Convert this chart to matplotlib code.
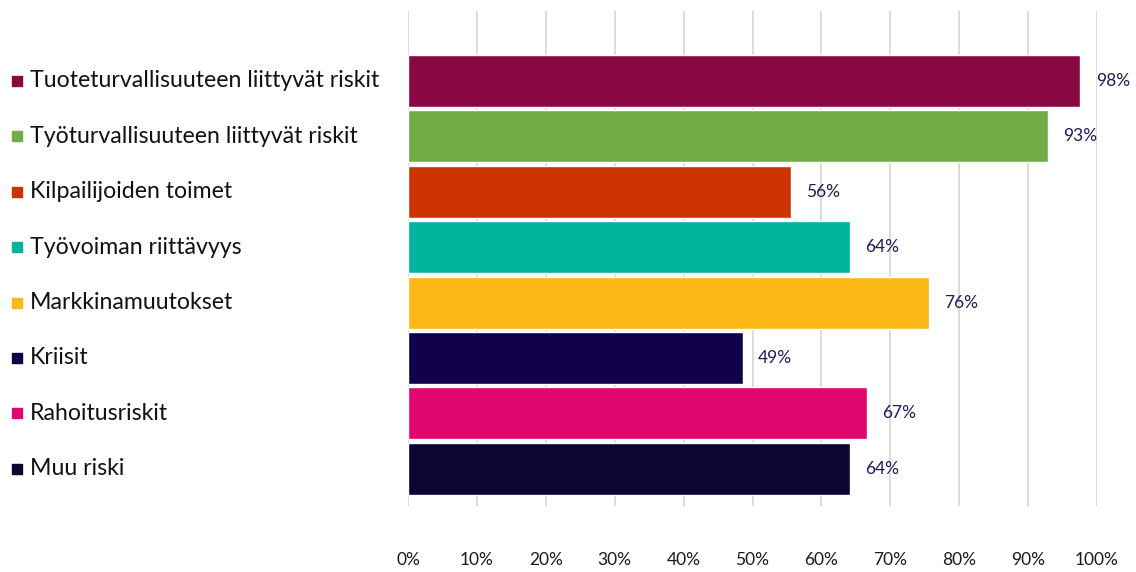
import matplotlib.pyplot as plt
import matplotlib.transforms as mtransforms

plt.rcParams['font.family'] = ['Lato', 'DejaVu Sans']

# Data
categories = ["Tuoteturvallisuuteen liittyvät riskit",
              "Työturvallisuuteen liittyvät riskit",
              "Kilpailijoiden toimet",
              "Työvoiman riittävyys",
              "Markkinamuutokset",
              "Kriisit",
              "Rahoitusriskit",
              "Muu riski"]
values = [97.6, 92.9, 55.6, 64.1, 75.6, 48.6, 66.6, 64.1]
colors = ["#8A0842", "#70AD47", "#CC3300", "#00B59C",
          "#FBB817", "#0F0049", "#E1066E", "#0B0532"]
xticks = [0, 10, 20, 30, 40, 50, 60, 70, 80, 90, 100]

fig = plt.figure(figsize=(11.36, 5.72), dpi=100)
ax = fig.add_axes([408/1136, 1-506/572, 689/1136, 495/572])

ypos = list(range(len(categories)))
ax.barh(ypos, values, height=0.94, color=colors, edgecolor='white', linewidth=1, zorder=3)

for y, v in zip(ypos, values):
    ax.annotate(f"{v:.0f}%", xy=(v, y), xytext=(11, 0), textcoords='offset points',
                va='center', ha='left', fontsize=12.5, color='#1E1A5C')

ax.set_xlim(0, 100)
ax.set_ylim(7.67, -1.26)
ax.set_xticks(xticks)
ax.set_xticklabels([f"{t}%" for t in xticks], fontsize=12.5, color='#1a1a1a')
ax.tick_params(axis='x', length=0, pad=33)
ax.set_yticks([])
ax.grid(axis='x', color='#D9D9D9', linewidth=1.3, zorder=0)
for s in ax.spines.values():
    s.set_visible(False)

# legend-like labels on the left
trans = mtransforms.blended_transform_factory(fig.transFigure, ax.transData)
for y, c, lab in zip(ypos, colors, categories):
    ax.plot([17/1136], [y], marker='s', markersize=7.5, color=c, transform=trans, clip_on=False)
    ax.text(30/1136, y, lab, transform=trans, va='center', ha='left', fontsize=16.7, color='#111111')

fig.savefig("out.png", dpi=100)
